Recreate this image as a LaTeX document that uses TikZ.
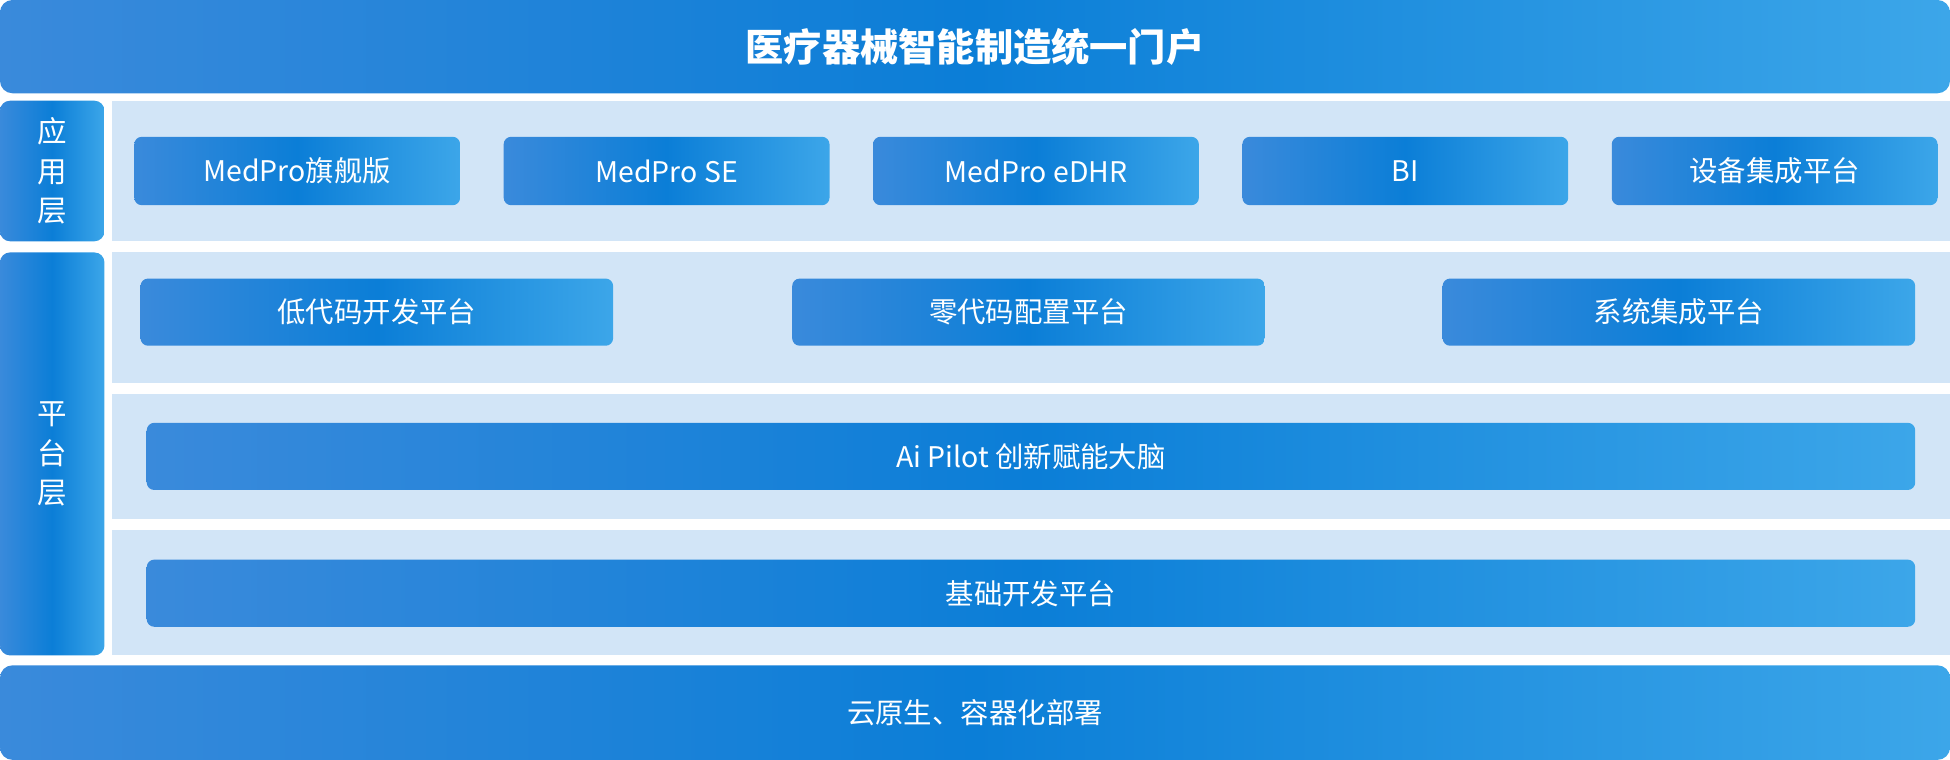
\documentclass[tikz,border=0pt]{standalone}
\usepackage{fontspec}
\setmainfont{Noto Sans CJK SC}
\definecolor{blue-l}{HTML}{3A8ADB}
\definecolor{blue-m}{HTML}{0B7ED7}
\definecolor{blue-r}{HTML}{3CA6E9}
\definecolor{pale}{HTML}{D2E5F7}
\newlength{\px}
\setlength{\px}{0.02cm}

\tikzset{
    grad/.style={left color=blue-l, right color=blue-r, middle color=blue-m, draw=none,
        text=white, rounded corners=6\px, font=\fontsize{13}{15}\selectfont, inner sep=0pt},
    band/.style={fill=pale, draw=none, inner sep=0pt},
    side/.style={grad, rounded corners=8\px, align=center, font=\fontsize{13.5}{18}\selectfont}
}

\begin{document}
\begin{tikzpicture}
    \useasboundingbox (0,0) rectangle (1568\px,-611\px);

    % top banner and bottom bar
    \node[grad, rounded corners=10\px, minimum width=1568\px, minimum height=75\px,
        font=\fontsize{17.5}{20}\selectfont\bfseries] (Portal) at (784\px,-37.5\px) {医疗器械智能制造统一门户};
    \node[grad, rounded corners=10\px, minimum width=1568\px, minimum height=76\px] (Cloud) at (784\px,-573\px) {云原生、容器化部署};

    % side labels
    \node[side, minimum width=84\px, minimum height=113\px] (AppLayer) at (42\px,-137.5\px) {应\\用\\层};
    \node[side, minimum width=84\px, minimum height=324\px] (PlatLayer) at (42\px,-365\px) {平\\台\\层};

    % pale bands
    \node[band, minimum width=1478\px, minimum height=113\px] (AppBand) at (829\px,-137.5\px) {};
    \node[band, minimum width=1478\px, minimum height=105\px] (PlatBand_1) at (829\px,-255.5\px) {};
    \node[band, minimum width=1478\px, minimum height=100\px] (PlatBand_2) at (829\px,-367\px) {};
    \node[band, minimum width=1478\px, minimum height=101\px] (PlatBand_3) at (829\px,-476.5\px) {};

    % application boxes
    \foreach \x/\name/\txt in {239/App_1/MedPro旗舰版, 536/App_2/MedPro SE, 833/App_3/MedPro eDHR, 1130/App_4/BI, 1427/App_5/设备集成平台}
        \node[grad, minimum width=262\px, minimum height=55\px] (\name) at (\x\px,-137.5\px) {\txt};

    % platform boxes
    \foreach \x/\name/\txt in {303/Plat_1/低代码开发平台, 827/Plat_2/零代码配置平台, 1350/Plat_3/系统集成平台}
        \node[grad, minimum width=380\px, minimum height=54\px] (\name) at (\x\px,-251\px) {\txt};

    \node[grad, minimum width=1422\px, minimum height=54\px] (AiPilot) at (829\px,-367\px) {Ai Pilot 创新赋能大脑};
    \node[grad, minimum width=1422\px, minimum height=54\px] (Base) at (829\px,-477\px) {基础开发平台};
\end{tikzpicture}
\end{document}
